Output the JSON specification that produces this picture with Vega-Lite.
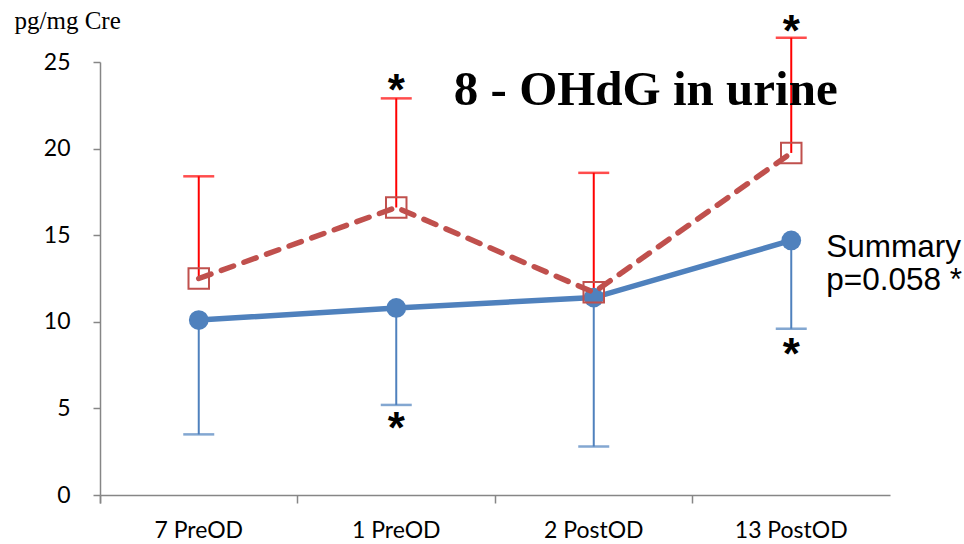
{
  "$schema": "https://vega.github.io/schema/vega-lite/v6.json",
  "width": 790,
  "height": 433,
  "autosize": "none",
  "padding": {"left": 100, "top": 62, "right": 74, "bottom": 49},
  "background": "white",
  "config": {"view": {"stroke": null}},
  "datasets": {
    "series": [
      {"cat": "7 PreOD", "series": "blue", "value": 10.1, "err": 3.5},
      {"cat": "1 PreOD", "series": "blue", "value": 10.8, "err": 5.2},
      {"cat": "2 PostOD", "series": "blue", "value": 11.4, "err": 2.8},
      {"cat": "13 PostOD", "series": "blue", "value": 14.7, "err": 9.6},
      {"cat": "7 PreOD", "series": "red", "value": 12.5, "err": 18.4},
      {"cat": "1 PreOD", "series": "red", "value": 16.6, "err": 22.9},
      {"cat": "2 PostOD", "series": "red", "value": 11.7, "err": 18.6},
      {"cat": "13 PostOD", "series": "red", "value": 19.75, "err": 26.4}
    ],
    "stars": [
      {"cat": "1 PreOD", "y": 22.5, "label": "*"},
      {"cat": "1 PreOD", "y": 3.0, "label": "*"},
      {"cat": "13 PostOD", "y": 25.95, "label": "*"},
      {"cat": "13 PostOD", "y": 7.25, "label": "*"}
    ],
    "summary": [
      {"cat": "13 PostOD", "y": 13.74, "label": "Summary"},
      {"cat": "13 PostOD", "y": 11.84, "label": "p=0.058 *"}
    ],
    "title": [
      {"cat": "2 PostOD", "y": 22.5, "label": "8 - OHdG in urine"}
    ]
  },
  "data": {"name": "series"},
  "encoding": {
    "x": {
      "field": "cat",
      "type": "nominal",
      "sort": ["7 PreOD", "1 PreOD", "2 PostOD", "13 PostOD"],
      "scale": {"type": "band", "paddingInner": 0, "paddingOuter": 0},
      "axis": {
        "title": null,
        "labelAngle": 0,
        "labelFont": "Lato",
        "labelFontSize": 23,
        "labelColor": "#000000",
        "labelPadding": 16,
        "tickSize": 8,
        "tickWidth": 1.5,
        "tickColor": "#868686",
        "domainColor": "#868686",
        "domainWidth": 1.5,
        "bandPosition": 0,
        "tickExtra": true,
        "grid": false
      }
    }
  },
  "layer": [
    {
      "transform": [{"filter": "datum.series === 'blue'"}],
      "mark": {"type": "rule", "color": "#4F81BD", "strokeWidth": 2},
      "encoding": {
        "y": {
          "field": "value",
          "type": "quantitative",
          "scale": {"domain": [0, 25], "nice": false},
          "axis": {
            "values": [0, 5, 10, 15, 20, 25],
            "grid": false,
            "labelFont": "Lato",
            "labelFontSize": 23,
            "labelColor": "#000000",
            "labelPadding": 23,
            "tickSize": 7,
            "tickWidth": 1.5,
            "tickColor": "#868686",
            "domainColor": "#868686",
            "domainWidth": 1.5,
            "title": "pg/mg Cre",
            "titleAngle": 0,
            "titleAlign": "left",
            "titleBaseline": "alphabetic",
            "titleX": -86,
            "titleY": -34,
            "titleFont": "Liberation Serif",
            "titleFontWeight": "normal",
            "titleFontSize": 25,
            "titleColor": "#000000"
          }
        },
        "y2": {"field": "err"}
      }
    },
    {
      "transform": [{"filter": "datum.series === 'blue'"}],
      "mark": {"type": "tick", "color": "#4F81BD", "size": 31, "thickness": 2.5, "orient": "horizontal"},
      "encoding": {"y": {"field": "err", "type": "quantitative"}}
    },
    {
      "transform": [{"filter": "datum.series === 'red'"}],
      "mark": {"type": "rule", "color": "#FF0000", "strokeWidth": 2},
      "encoding": {
        "y": {"field": "value", "type": "quantitative"},
        "y2": {"field": "err"}
      }
    },
    {
      "transform": [{"filter": "datum.series === 'red'"}],
      "mark": {"type": "tick", "color": "#FF0000", "size": 31, "thickness": 2.5, "orient": "horizontal"},
      "encoding": {"y": {"field": "err", "type": "quantitative"}}
    },
    {
      "transform": [{"filter": "datum.series === 'blue'"}],
      "mark": {"type": "line", "color": "#4F81BD", "strokeWidth": 5.5},
      "encoding": {"y": {"field": "value", "type": "quantitative"}}
    },
    {
      "transform": [{"filter": "datum.series === 'blue'"}],
      "mark": {"type": "point", "shape": "circle", "filled": true, "color": "#4F81BD", "opacity": 1, "size": 390},
      "encoding": {"y": {"field": "value", "type": "quantitative"}}
    },
    {
      "transform": [{"filter": "datum.series === 'red'"}],
      "mark": {"type": "line", "color": "#C0504D", "strokeWidth": 5.5, "strokeDash": [13, 11], "strokeCap": "round"},
      "encoding": {"y": {"field": "value", "type": "quantitative"}}
    },
    {
      "transform": [{"filter": "datum.series === 'red'"}],
      "mark": {"type": "point", "shape": "square", "filled": false, "color": "#C0504D", "strokeWidth": 2, "opacity": 1, "size": 420},
      "encoding": {"y": {"field": "value", "type": "quantitative"}}
    },
    {
      "data": {"name": "stars"},
      "mark": {"type": "text", "font": "Liberation Sans", "fontWeight": "bold", "fontSize": 44, "align": "center", "baseline": "alphabetic", "color": "#000000"},
      "encoding": {
        "y": {"field": "y", "type": "quantitative"},
        "text": {"field": "label"}
      }
    },
    {
      "data": {"name": "summary"},
      "mark": {"type": "text", "font": "Liberation Sans", "fontSize": 31.5, "align": "left", "baseline": "alphabetic", "dx": 35, "color": "#000000"},
      "encoding": {
        "y": {"field": "y", "type": "quantitative"},
        "text": {"field": "label"}
      }
    },
    {
      "data": {"name": "title"},
      "mark": {"type": "text", "font": "Liberation Serif", "fontWeight": "bold", "fontSize": 49, "align": "center", "baseline": "alphabetic", "dx": 52, "color": "#000000"},
      "encoding": {
        "y": {"field": "y", "type": "quantitative"},
        "text": {"field": "label"}
      }
    }
  ]
}
